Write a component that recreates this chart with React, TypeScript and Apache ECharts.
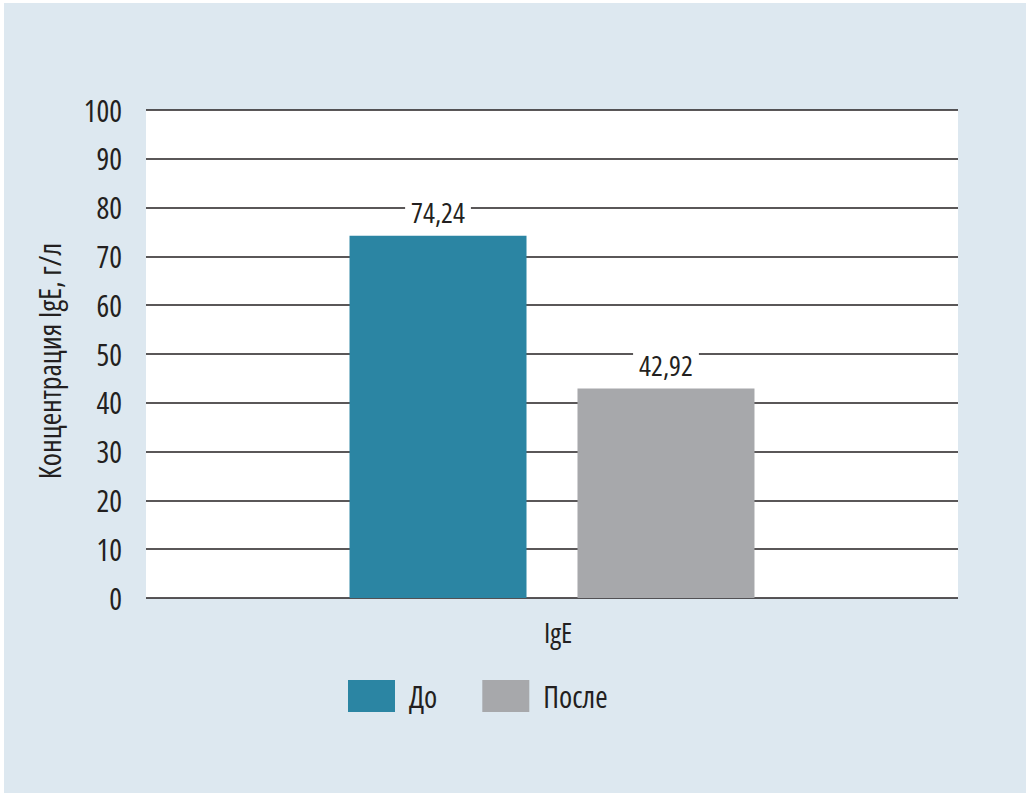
import React, { useEffect, useRef } from "react";
import * as echarts from "echarts";

const categories = ["IgE"];
const seriesNames = ["До", "После"];
const beforeValues = [74.24];
const afterValues = [42.92];
const yTicks = { min: 0, max: 100, interval: 10 };
const yAxisTitle = "Концентрация IgE, г/л";

const FONT = "'Open Sans', 'Roboto Condensed', sans-serif";
const TEXT = "#231f20";

// measure text with condensed width so that layout matches the rendered (condensed) text
let measureCtx: CanvasRenderingContext2D | null = null;
try {
  (echarts as any).setPlatformAPI({
    measureText(text: string, font?: string) {
      if (!measureCtx) {
        measureCtx = document.createElement("canvas").getContext("2d");
      }
      const ctx = measureCtx as any;
      ctx.font = font || "12px sans-serif";
      try {
        ctx.fontStretch = "condensed";
      } catch (e) {}
      return ctx.measureText(text);
    },
  });
} catch (e) {}

export default function App() {
  const ref = useRef<HTMLDivElement>(null);
  useEffect(() => {
    if (!ref.current) return;
    const chart = echarts.init(ref.current, null, { renderer: "svg" });
    const fmt = (p: any) => String(p.value).replace(".", ",");
    const labelStyle = {
      show: true,
      position: "top",
      distance: 10,
      formatter: fmt,
      fontFamily: FONT,
      fontSize: 28,
      color: TEXT,
      backgroundColor: "#ffffff",
      padding: [0, 6],
    };
    chart.setOption({
      animation: false,
      backgroundColor: "#ffffff",
      textStyle: { fontFamily: FONT, color: TEXT },
      graphic: [
        {
          type: "rect",
          z: -10,
          silent: true,
          shape: { x: 4, y: 3, width: 1022, height: 790 },
          style: { fill: "#dde8f0" },
        },
      ],
      grid: {
        left: 146,
        right: 78,
        top: 110,
        bottom: 209,
        show: true,
        backgroundColor: "#ffffff",
        borderWidth: 0,
      },
      legend: {
        left: 343,
        top: 675,
        itemWidth: 47,
        itemHeight: 32,
        itemGap: 45,
        icon: "rect",
        data: seriesNames,
        textStyle: { fontFamily: FONT, fontSize: 30, color: TEXT, padding: [4, 0, 0, 9] },
      },
      xAxis: {
        type: "category",
        data: categories,
        axisLine: { show: false },
        axisTick: { show: false },
        axisLabel: {
          fontFamily: FONT,
          fontSize: 28,
          color: TEXT,
          margin: 20,
          padding: [0, 0, 0, 12],
        },
      },
      yAxis: {
        type: "value",
        min: yTicks.min,
        max: yTicks.max,
        interval: yTicks.interval,
        name: yAxisTitle,
        nameLocation: "middle",
        nameGap: 82,
        nameTextStyle: { fontFamily: FONT, fontSize: 30, color: TEXT, padding: [0, 14, 0, 0] },
        axisLine: { show: false },
        axisTick: { show: false },
        axisLabel: { fontFamily: FONT, fontSize: 30, color: TEXT, margin: 24 },
        splitLine: { show: true, lineStyle: { color: TEXT, width: 1.5 } },
      },
      series: [
        {
          name: seriesNames[0],
          type: "bar",
          data: beforeValues,
          barWidth: 177,
          barGap: "28.8%",
          itemStyle: { color: "#2b85a3" },
          label: labelStyle,
        },
        {
          name: seriesNames[1],
          type: "bar",
          data: afterValues,
          barWidth: 177,
          itemStyle: { color: "#a7a8ab" },
          label: labelStyle,
        },
      ],
    });
    return () => chart.dispose();
  }, []);
  return (
    <div style={{ position: "absolute", left: 0, top: 0, width: 1036, height: 807 }}>
      <style>{`.cond-chart text, .cond-chart tspan { font-stretch: condensed !important; }`}</style>
      <div ref={ref} className="cond-chart" style={{ width: 1036, height: 807 }} />
    </div>
  );
}
